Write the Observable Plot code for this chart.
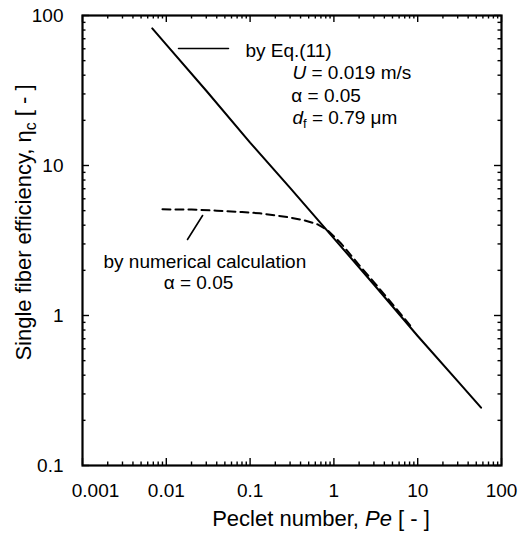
<!DOCTYPE html>
<html><head><meta charset="utf-8">
<script src="https://cdn.jsdelivr.net/npm/d3@7"></script>
<script src="https://cdn.jsdelivr.net/npm/@observablehq/plot@0.6"></script>
<style>
html,body{margin:0;padding:0;background:#fff;}
</style></head><body><div id="chart"></div>
<script>
// ---- data ----
const solidPe  = [0.0068, 0.01, 0.03, 0.1, 0.3, 1, 3, 10, 30, 57];
const solidEta = [82, 64, 31.5, 14.2, 7.1, 3.27, 1.61, 0.73, 0.365, 0.243];

const dashPe  = [0.009, 0.02, 0.04, 0.08, 0.13, 0.2, 0.3, 0.45, 0.64, 0.84, 1.2, 2, 3, 5, 8.7];
const dashEta = [5.1, 5.08, 5.0, 4.9, 4.8, 4.65, 4.5, 4.3, 4.05, 3.7, 3.05, 2.17, 1.67, 1.19, 0.82];

const xTicks = [0.001, 0.01, 0.1, 1, 10, 100];
const xTickLabels = ["0.001", "0.01", "0.1", "1", "10", "100"];
const yTicks = [0.1, 1, 10, 100];
const yTickLabels = ["0.1", "1", "10", "100"];

const xMinor = d3.range(-3, 2).flatMap(e => d3.range(2, 10).map(m => m * 10 ** e));
const yMinor = d3.range(-1, 2).flatMap(e => d3.range(2, 10).map(m => m * 10 ** e));

// annotations (data coordinates)
const noteTexts = ["by Eq.(11)", "U = 0.019 m/s", "α = 0.05", "df = 0.79 μm", "by numerical calculation", "α = 0.05"];
const noteX = [0.088, 0.32, 0.31, 0.32, 0.00178, 0.0093];
const noteY = [52.5, 38.0, 26.7, 19.05, 2.06, 1.51];
const legendLineX = [0.0140, 0.0552];
const legendLineY = [60.3, 60.3];
const pointerX = [0.0179, 0.0271];
const pointerY = [3.21, 4.64];

// ---- build ----
const solid = solidPe.map((p, i) => ({Pe: p, eta: solidEta[i]}));
const dashed = dashPe.map((p, i) => ({Pe: p, eta: dashEta[i]}));
const notes = noteTexts.map((t, i) => ({x: noteX[i], y: noteY[i], t}));
const legendLine = legendLineX.map((x, i) => ({x, y: legendLineY[i]}));
const pointer = pointerX.map((x, i) => ({x, y: pointerY[i]}));

const W = 527, H = 535, mL = 82, mR = 26, mT = 15, mB = 70;
const fw = W - mL - mR, fh = H - mT - mB;
const major = 7, minor = 3.5;
const tk = {stroke: "black", strokeWidth: 1.4};

const chart = Plot.plot({
  width: W, height: H,
  marginLeft: mL, marginRight: mR, marginTop: mT, marginBottom: mB,
  x: {type: "log", domain: [0.001, 100], axis: null},
  y: {type: "log", domain: [0.1, 100], axis: null},
  style: {fontFamily: "'Liberation Sans', Arial, sans-serif", fontSize: "19px", background: "white", color: "black"},
  marks: [
    // ticks inward on all sides
    Plot.tickX(xTicks, {x: d => d, insetTop: fh - major, ...tk}),
    Plot.tickX(xTicks, {x: d => d, insetBottom: fh - major, ...tk}),
    Plot.tickX(xMinor, {x: d => d, insetTop: fh - minor, ...tk}),
    Plot.tickX(xMinor, {x: d => d, insetBottom: fh - minor, ...tk}),
    Plot.tickY(yTicks, {y: d => d, insetRight: fw - major, ...tk}),
    Plot.tickY(yTicks, {y: d => d, insetLeft: fw - major, ...tk}),
    Plot.tickY(yMinor, {y: d => d, insetRight: fw - minor, ...tk}),
    Plot.tickY(yMinor, {y: d => d, insetLeft: fw - minor, ...tk}),
    Plot.frame({stroke: "black", strokeWidth: 2.2}),
    // tick labels
    Plot.text(xTicks.slice(0, 1), {x: d => d, text: (d, i) => xTickLabels[0], frameAnchor: "bottom", dy: 25, dx: 13, textAnchor: "middle", lineAnchor: "middle", fill: "black"}),
    Plot.text(xTicks.slice(1), {x: d => d, text: (d, i) => xTickLabels[i + 1], frameAnchor: "bottom", dy: 25, textAnchor: "middle", lineAnchor: "middle", fill: "black"}),
    Plot.text(yTicks, {y: d => d, text: (d, i) => yTickLabels[i], frameAnchor: "left", dx: -19, textAnchor: "end", lineAnchor: "middle", fill: "black"}),
    // axis titles
    Plot.text(["Peclet number, Pe [ - ]"], {text: d => d, frameAnchor: "bottom", dy: 53, dx: 29, textAnchor: "middle", lineAnchor: "middle", fill: "black", fontSize: 22}),
    Plot.text(["Single fiber efficiency, ηc [ - ]"], {text: d => d, frameAnchor: "left", rotate: -90, dx: -59, dy: -18, textAnchor: "middle", lineAnchor: "middle", fill: "black", fontSize: 22}),
    // curves
    Plot.line(solid, {x: "Pe", y: "eta", stroke: "black", strokeWidth: 2}),
    Plot.line(dashed, {x: "Pe", y: "eta", stroke: "black", strokeWidth: 2, strokeDasharray: "8,5"}),
    // annotations
    Plot.line(legendLine, {x: "x", y: "y", stroke: "black", strokeWidth: 1.6}),
    Plot.line(pointer, {x: "x", y: "y", stroke: "black", strokeWidth: 1.6}),
    Plot.text(notes, {x: "x", y: "y", text: "t", textAnchor: "start", lineAnchor: "bottom", fill: "black"})
  ]
});

// rich text: italics and subscripts
chart.querySelectorAll("text").forEach(el => {
  const s = el.textContent;
  if (s === "U = 0.019 m/s") el.innerHTML = '<tspan font-style="italic">U</tspan> = 0.019 m/s';
  else if (s === "df = 0.79 μm") el.innerHTML = '<tspan font-style="italic">d</tspan><tspan dy="4" font-size="13">f</tspan><tspan dy="-4"> = 0.79 μm</tspan>';
  else if (s === "Peclet number, Pe [ - ]") el.innerHTML = 'Peclet number, <tspan font-style="italic">Pe</tspan> [ - ]';
  else if (s === "Single fiber efficiency, ηc [ - ]") el.innerHTML = 'Single fiber efficiency, η<tspan dy="5" font-size="16">c</tspan><tspan dy="-5"> [ - ]</tspan>';
});

document.getElementById("chart").appendChild(chart);
</script>
</body></html>
